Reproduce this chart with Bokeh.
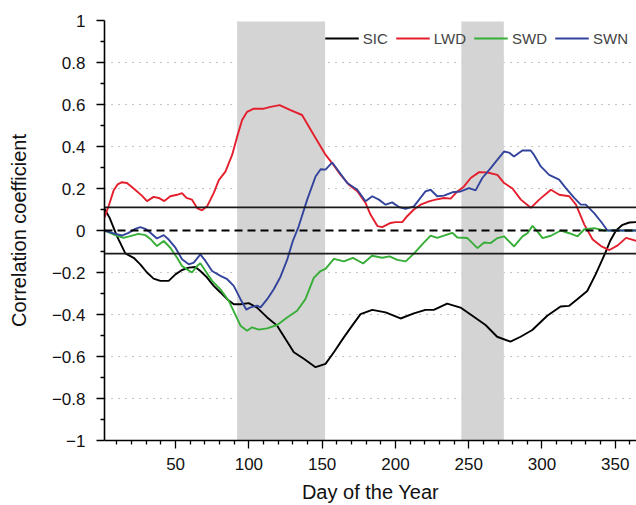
from bokeh.plotting import figure
from bokeh.models import Range1d, FixedTicker, CustomJSTickFormatter, Span, BoxAnnotation
from bokeh.embed import file_html
from bokeh.resources import INLINE

# ---- data ----
shade_start = [92, 245]
shade_end = [152, 274]
sig_level = 0.11

sic_day = [1, 5, 10, 15.7, 21.4, 25.9, 30.5, 35, 39.6, 45.3, 49.9, 54.4, 59, 63.5, 66.9, 71.5, 76, 80.6,
           85.2, 89.7, 94.3, 99.9, 105.6, 112.5, 119.3, 125, 130.7, 137.5, 145.5, 152.3, 158, 164.8, 170.5,
           176.2, 184.2, 193.3, 203.5, 212.6, 220.5, 226.2, 235.3, 244.4, 253.5, 261.5, 269.4, 278.5, 285.4,
           293.4, 303.6, 312.7, 318.4, 324.1, 330.9, 336.6, 343, 346.5, 350.5, 355, 359.6, 365]
sic_val = [0.11, 0.06, -0.027, -0.109, -0.13, -0.161, -0.2, -0.229, -0.24, -0.24, -0.209, -0.188, -0.177,
           -0.174, -0.193, -0.224, -0.264, -0.295, -0.327, -0.351, -0.351, -0.346, -0.367, -0.414, -0.453,
           -0.517, -0.58, -0.611, -0.651, -0.635, -0.58, -0.509, -0.453, -0.398, -0.378, -0.39, -0.419,
           -0.395, -0.378, -0.378, -0.348, -0.367, -0.411, -0.45, -0.506, -0.529, -0.506, -0.474, -0.406,
           -0.362, -0.359, -0.327, -0.288, -0.209, -0.11, -0.05, 0.0, 0.027, 0.038, 0.04]

lwd_day = [1.4, 4.5, 7.7, 10.5, 13.4, 16.8, 21.4, 27, 30.5, 35, 38.5, 42.3, 46.4, 51, 54.4, 57.4, 61.2, 64.7,
           68, 71.5, 76, 79.5, 84, 88.6, 92, 95.4, 98.8, 103.4, 110.2, 114.8, 121, 128.4, 136.3, 144.3,
           151.9, 156.9, 162.5, 168.3, 174, 179.6, 183, 187.7, 191, 196.7, 200.1, 204.7, 208, 212.6, 217.2,
           222.9, 227.4, 233.1, 237.7, 242.3, 246.8, 251.4, 257.1, 262.8, 269.6, 274.2, 279.9, 285.6, 292.4,
           298.1, 306.1, 311.8, 318.6, 323.2, 328.9, 334.6, 340.3, 346, 351.7, 357.4, 365]
lwd_val = [0.06, 0.12, 0.19, 0.22, 0.23, 0.226, 0.2, 0.166, 0.14, 0.16, 0.155, 0.14, 0.163, 0.17, 0.178,
           0.155, 0.147, 0.107, 0.096, 0.115, 0.178, 0.24, 0.28, 0.36, 0.447, 0.526, 0.565, 0.58, 0.58,
           0.589, 0.597, 0.573, 0.55, 0.455, 0.365, 0.32, 0.266, 0.218, 0.187, 0.131, 0.076, 0.021, 0.016,
           0.036, 0.04, 0.04, 0.068, 0.1, 0.123, 0.139, 0.147, 0.155, 0.152, 0.186, 0.21, 0.25, 0.278,
           0.276, 0.265, 0.226, 0.2, 0.147, 0.108, 0.147, 0.194, 0.17, 0.163, 0.123, 0.028, -0.043,
           -0.074, -0.093, -0.071, -0.035, -0.05]

swd_day = [1.4, 7.7, 14.5, 19, 24.7, 29.4, 32.8, 37.3, 41.9, 46.4, 51, 54.4, 57.8, 61.2, 64.7, 66.9, 70.4,
           74.9, 80.6, 86.3, 89.7, 94.3, 98.8, 102.2, 106.8, 112.5, 119.3, 126.1, 132.9, 138.6, 144.3,
           148.9, 152.3, 158, 164.8, 171, 178, 184, 191, 196, 201.3, 207, 212.6, 218.3, 224, 228.5, 233.1,
           238.8, 242.3, 249.1, 256, 260.5, 265.1, 269.6, 274.2, 281, 286.7, 290.1, 293.5, 297, 300.4,
           306.1, 312.9, 318.6, 324.3, 328.9, 335.7, 342.5, 365]
swd_val = [0.0, -0.019, -0.035, -0.027, -0.016, -0.022, -0.04, -0.074, -0.05, -0.082, -0.13, -0.169, -0.185,
           -0.2, -0.169, -0.156, -0.193, -0.24, -0.28, -0.335, -0.385, -0.453, -0.477, -0.461, -0.472,
           -0.466, -0.45, -0.414, -0.382, -0.327, -0.226, -0.193, -0.183, -0.135, -0.147, -0.13, -0.157,
           -0.12, -0.13, -0.123, -0.14, -0.147, -0.11, -0.066, -0.024, -0.035, -0.024, -0.011, -0.033,
           -0.036, -0.084, -0.057, -0.06, -0.036, -0.028, -0.076, -0.028, -0.013, 0.022, -0.005, -0.036,
           -0.025, 0.0, -0.013, -0.028, 0.006, 0.011, 0.0, 0.0]

swn_day = [1.4, 7.7, 13.4, 17.9, 22.5, 25.9, 29.4, 32.8, 37.3, 41.9, 45.3, 49.9, 54.4, 59, 62.4, 66.9, 70.4,
           74.9, 80.6, 85.2, 89.7, 94.3, 98.3, 101.1, 105.7, 108, 112.5, 117, 121.6, 126.1, 130, 134, 139.8,
           145.5, 149, 152.3, 156.9, 161.4, 167.1, 174, 179.6, 184.2, 188.7, 193.3, 197.8, 202.4, 206.9,
           212.6, 220.5, 224, 228.5, 233.1, 238.8, 244.5, 250.2, 254.7, 259.3, 265, 269.5, 274.1, 277.5,
           280.9, 286.6, 292.3, 294.6, 299.2, 304.9, 311.7, 316.3, 322, 326.5, 329.9, 335.6, 340.2, 344.7,
           365]
swn_val = [0.0, -0.014, -0.024, -0.011, 0.008, 0.016, 0.008, -0.011, -0.038, -0.022, -0.043, -0.082, -0.137,
           -0.161, -0.153, -0.114, -0.145, -0.193, -0.216, -0.232, -0.264, -0.327, -0.377, -0.366, -0.358,
           -0.366, -0.327, -0.28, -0.22, -0.14, -0.05, 0.02, 0.147, 0.257, 0.292, 0.29, 0.324, 0.281,
           0.226, 0.194, 0.139, 0.163, 0.147, 0.123, 0.134, 0.112, 0.103, 0.115, 0.186, 0.194, 0.163,
           0.166, 0.182, 0.186, 0.202, 0.191, 0.25, 0.297, 0.336, 0.376, 0.371, 0.352, 0.381, 0.381, 0.36,
           0.305, 0.265, 0.242, 0.202, 0.155, 0.123, 0.123, 0.083, 0.043, 0.0, 0.0]

x_major = [50, 100, 150, 200, 250, 300, 350]
x_minor = [d for d in range(10, 361, 10) if d % 50 != 0]
y_major = [-1, -0.8, -0.6, -0.4, -0.2, 0, 0.2, 0.4, 0.6, 0.8, 1]
y_minor = [-0.9, -0.7, -0.5, -0.3, -0.1, 0.1, 0.3, 0.5, 0.7, 0.9]
y_grid = [-0.8, -0.6, -0.4, -0.2, 0.2, 0.4, 0.6, 0.8, 1]

FONT = "Liberation Sans"

p = figure(width=636, height=505, output_backend="svg", toolbar_location=None,
           x_range=Range1d(1.5, 364.5), y_range=Range1d(-1, 1),
           min_border_left=104, min_border_top=20, min_border_right=0, min_border_bottom=10)
p.outline_line_color = None
p.xgrid.visible = False
p.ygrid.ticker = FixedTicker(ticks=y_grid)
p.ygrid.grid_line_color = "#8a8a8a"
p.ygrid.grid_line_dash = "1 6"
p.ygrid.grid_line_width = 1

# shaded periods
for s, e in zip(shade_start, shade_end):
    p.add_layout(BoxAnnotation(left=s, right=e, bottom=-1, top=0.995, fill_color="#d4d4d4",
                               fill_alpha=1.0, line_color=None, level="underlay"))

# significance and zero lines
for lv in (sig_level, -sig_level):
    p.add_layout(Span(location=lv, dimension="width", line_color="#1a1a1a", line_width=1.6))
p.add_layout(Span(location=0, dimension="width", line_color="black", line_width=1.8, line_dash="8 5"))

p.line(sic_day, sic_val, line_color="black", line_width=1.9, legend_label="SIC")
p.line(lwd_day, lwd_val, line_color="#e41f2d", line_width=1.9, legend_label="LWD")
p.line(swd_day, swd_val, line_color="#36ae37", line_width=1.9, legend_label="SWD")
p.line(swn_day, swn_val, line_color="#33449c", line_width=1.9, legend_label="SWN")

fmt = CustomJSTickFormatter(code="""
let s;
if (Math.abs(tick - Math.round(tick)) < 1e-9) { s = Math.round(tick).toString(); }
else { s = tick.toFixed(1); }
return s.replace('-', '\u2212');
""")

p.xaxis.ticker = FixedTicker(ticks=x_major, minor_ticks=x_minor)
p.yaxis.ticker = FixedTicker(ticks=y_major, minor_ticks=y_minor)
p.yaxis.formatter = fmt
for ax in (p.xaxis[0], p.yaxis[0]):
    ax.axis_line_width = 1.6
    ax.axis_line_color = "black"
    ax.major_tick_in = 0
    ax.major_tick_out = 8
    ax.minor_tick_in = 0
    ax.minor_tick_out = 4
    ax.major_tick_line_width = 1.3
    ax.minor_tick_line_width = 1.3
    ax.major_label_text_font = FONT
    ax.major_label_text_font_size = "17px"
    ax.major_label_text_color = "#111111"
    ax.axis_label_text_font = FONT
    ax.axis_label_text_font_size = "20px"
    ax.axis_label_text_font_style = "normal"
    ax.axis_label_text_color = "#111111"

p.xaxis.axis_label = "Day of the Year"
p.yaxis.axis_label = "Correlation coefficient"
p.xaxis.major_label_standoff = 9
p.xaxis.axis_label_standoff = 8
p.yaxis.major_label_standoff = 11
p.yaxis.axis_label_standoff = 19

lg = p.legend[0]
lg.location = "top_right"
lg.orientation = "horizontal"
lg.background_fill_alpha = 0
lg.border_line_alpha = 0
lg.label_text_font = FONT
lg.label_text_font_size = "15px"
lg.glyph_width = 34
lg.label_standoff = 4
lg.spacing = 8
lg.margin = 4
lg.padding = 4

open("out.html", "w").write(file_html(p, INLINE))
